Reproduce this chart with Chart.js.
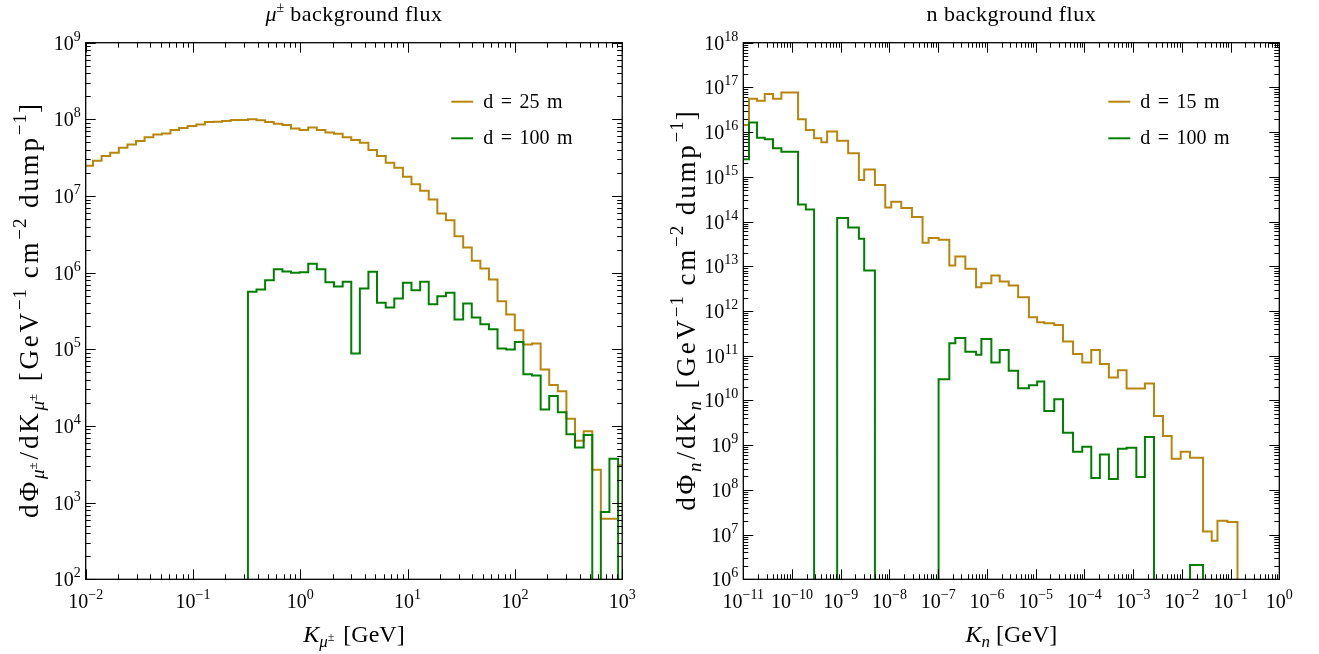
<!DOCTYPE html>
<html>
<head>
<meta charset="utf-8">
<script src="https://cdn.jsdelivr.net/npm/chart.js@4.4.0/dist/chart.umd.min.js"></script>
<style>
  html, body { margin: 0; padding: 0; background: #fff; overflow: hidden; }
  #wrap { position: relative; width: 1319px; height: 654px; }
  canvas { position: absolute; top: 0; }
</style>
</head>
<body>
<div id="wrap">
  <canvas id="muChart" width="660" height="654" style="left:0"></canvas>
  <canvas id="nChart" width="659" height="654" style="left:660px"></canvas>
</div>
<script>
// Bin edges are log10(K / GeV); bin contents are log10(flux), null = empty bin
const muEdgesLog = [-2.012, -1.932, -1.852, -1.772, -1.691, -1.611, -1.531, -1.451, -1.370, -1.290,
  -1.210, -1.130, -1.050, -0.969, -0.889, -0.809, -0.729, -0.648, -0.568, -0.488,
  -0.408, -0.328, -0.247, -0.167, -0.087, -0.007, 0.074, 0.154, 0.234, 0.314,
  0.395, 0.475, 0.555, 0.635, 0.715, 0.796, 0.876, 0.956, 1.036, 1.117,
  1.197, 1.277, 1.357, 1.437, 1.518, 1.598, 1.678, 1.758, 1.838, 1.919,
  1.999, 2.079, 2.159, 2.240, 2.320, 2.400, 2.480, 2.560, 2.641, 2.721,
  2.801, 2.881, 2.962, 3.042];
const mu25Log = [7.395, 7.460, 7.521, 7.564, 7.630, 7.673, 7.717, 7.765, 7.804, 7.817,
  7.860, 7.886, 7.913, 7.934, 7.965, 7.969, 7.978, 7.991, 7.991, 8.000,
  7.987, 7.965, 7.943, 7.926, 7.882, 7.860, 7.895, 7.860, 7.830, 7.812,
  7.765, 7.730, 7.696, 7.599, 7.521, 7.434, 7.369, 7.251, 7.155, 7.068,
  6.955, 6.772, 6.685, 6.476, 6.329, 6.154, 6.054, 5.911, 5.628, 5.454,
  5.249, 5.062, 5.075, 4.736, 4.535, 4.453, 4.096, 3.809, 3.931, 3.430,
  2.791, 2.791, 3.487];
const mu100Log = [null, null, null, null, null, null, null, null, null, null,
  null, null, null, null, null, null, null, null, null, 5.750,
  5.780, 5.902, 6.046, 6.015, 5.998, 6.007, 6.115, 6.046, 5.876, 5.819,
  5.880, 4.945, 5.793, 6.011, 5.606, 5.545, 5.663, 5.867, 5.772, 5.880,
  5.589, 5.693, 5.737, 5.389, 5.598, 5.415, 5.328, 5.262, 5.010, 4.997,
  5.097, 4.675, 4.658, 4.214, 4.392, 4.179, 3.892, 3.718, 3.883, null,
  2.878, 3.574, null];

const nEdgesLog = [-11.047, -10.883, -10.718, -10.560, -10.390, -10.219, -10.046, -9.876, -9.717, -9.547,
  -9.397, -9.280, -9.074, -8.848, -8.628, -8.519, -8.299, -8.087, -7.964, -7.758,
  -7.539, -7.321, -7.197, -6.992, -6.772, -6.649, -6.443, -6.223, -6.114, -5.909,
  -5.738, -5.553, -5.360, -5.138, -4.969, -4.823, -4.618, -4.439, -4.233, -4.044,
  -3.859, -3.682, -3.497, -3.312, -3.134, -2.934, -2.758, -2.572, -2.387, -2.209,
  -2.024, -1.832, -1.565, -1.387, -1.269, -1.064, -0.858];
const n15Log = [16.162, 16.745, 16.700, 16.850, 16.745, 16.887, 16.887, 16.289, 16.049, 15.862,
  15.773, 16.012, 15.810, 15.526, 14.927, 15.166, 14.815, 14.314, 14.441, 14.306,
  14.104, 13.528, 13.633, 13.595, 13.019, 13.221, 12.944, 12.533, 12.622, 12.795,
  12.660, 12.570, 12.308, 11.859, 11.747, 11.725, 11.687, 11.320, 11.036, 10.849,
  11.126, 10.812, 10.512, 10.677, 10.266, 10.266, 10.378, 9.652, 9.203, 8.694,
  8.851, 8.717, 7.071, 6.861, 7.310, 7.280];
const n100Log = [15.391, 16.214, 15.877, 15.840, 15.638, 15.563, 15.563, 14.381, 14.269, null,
  null, null, 14.082, 13.865, 13.618, 12.907, null, null, null, null,
  null, null, null, 10.475, 11.276, 11.395, 11.089, 11.021, 11.373, 10.849,
  11.126, 10.662, 10.273, 10.340, 10.423, 9.764, 10.027, 9.278, 8.851, 8.964,
  8.268, 8.791, 8.245, 8.919, 8.941, 8.290, 9.181, null, null, null,
  null, 6.321, null, null, null, null];

const ORANGE = '#b8860b';
const GREEN = '#008000';
const SERIF = '"Liberation Serif", "DejaVu Serif", serif';
const FLOOR = 1e-30; // stands in for an empty bin on the log axis

// step outline: one point per left edge, closed down to the floor at both ends
function histPoints(edgesLog, valsLog) {
  const pts = [{ x: 10 ** edgesLog[0], y: FLOOR }];
  valsLog.forEach((v, i) => pts.push({ x: 10 ** edgesLog[i], y: v === null ? FLOOR : 10 ** v }));
  pts.push({ x: 10 ** edgesLog[edgesLog.length - 1], y: FLOOR });
  return pts;
}

function setFont(ctx, size, italic) {
  ctx.font = (italic ? 'italic ' : '') + size + 'px ' + SERIF;
}
function runWidth(ctx, r) {
  setFont(ctx, r.s, r.it);
  if (!r.ls) return ctx.measureText(r.t).width + (r.gap || 0);
  let w = 0;
  for (const ch of r.t) w += ctx.measureText(ch).width + r.ls;
  return w + (r.gap || 0);
}
function drawRuns(ctx, runs, x, y, align) {
  const w = runs.reduce((acc, r) => acc + runWidth(ctx, r), 0);
  let cx = align === 'center' ? x - w / 2 : align === 'right' ? x - w : x;
  ctx.textAlign = 'left';
  ctx.textBaseline = 'alphabetic';
  runs.forEach(r => {
    setFont(ctx, r.s, r.it);
    if (!r.ls) {
      ctx.fillText(r.t, cx, y + (r.dy || 0));
      cx += ctx.measureText(r.t).width + (r.gap || 0);
    } else {
      for (const ch of r.t) {
        ctx.fillText(ch, cx, y + (r.dy || 0));
        cx += ctx.measureText(ch).width + r.ls;
      }
      cx += r.gap || 0;
    }
  });
}
function powRuns(e) {
  return [{ t: '10', s: 20 }, { t: e < 0 ? '\u2212' + (-e) : String(e), s: 14, dy: -9 }];
}
function logTicks(min, max) {
  const e0 = Math.round(Math.log10(min)), e1 = Math.round(Math.log10(max));
  const out = [];
  for (let e = e0; e <= e1; e++) {
    out.push({ v: 10 ** e, e: e, major: true });
    if (e < e1) for (let m = 2; m <= 9; m++) out.push({ v: m * 10 ** e, major: false });
  }
  return out;
}

// matplotlib-like frame: inward ticks on all sides, 10^n labels, titles, legend
function decoPlugin(deco) {
  return {
    id: 'deco',
    afterDraw(chart) {
      const { ctx, chartArea: a, scales: { x, y } } = chart;
      ctx.save();
      ctx.strokeStyle = '#000';
      ctx.fillStyle = '#000';
      ctx.lineWidth = 1;
      const xt = logTicks(x.min, x.max), yt = logTicks(y.min, y.max);
      ctx.beginPath();
      xt.forEach(t => {
        const px = Math.round(x.getPixelForValue(t.v)) + 0.5, L = t.major ? 10 : 5;
        ctx.moveTo(px, a.bottom); ctx.lineTo(px, a.bottom - L);
        ctx.moveTo(px, a.top); ctx.lineTo(px, a.top + L);
      });
      yt.forEach(t => {
        const py = Math.round(y.getPixelForValue(t.v)) + 0.5, L = t.major ? 10 : 5;
        ctx.moveTo(a.left, py); ctx.lineTo(a.left + L, py);
        ctx.moveTo(a.right, py); ctx.lineTo(a.right - L, py);
      });
      ctx.stroke();
      ctx.lineWidth = 1.3;
      ctx.strokeRect(a.left, a.top, a.right - a.left, a.bottom - a.top);

      xt.filter(t => t.major).forEach(t => {
        drawRuns(ctx, powRuns(t.e), x.getPixelForValue(t.v), a.bottom + 29, 'center');
      });
      yt.filter(t => t.major).forEach(t => {
        drawRuns(ctx, powRuns(t.e), a.left - 5, y.getPixelForValue(t.v) + 7, 'right');
      });

      const midX = (a.left + a.right) / 2, midY = (a.top + a.bottom) / 2;
      drawRuns(ctx, deco.title, midX, 21, 'center');
      drawRuns(ctx, deco.xlabel, midX, 642, 'center');
      ctx.save();
      ctx.translate(a.left - 48, midY);
      ctx.rotate(-Math.PI / 2);
      drawRuns(ctx, deco.ylabel, 0, 0, 'center');
      ctx.restore();

      deco.legend.forEach((item, i) => {
        const ly = a.top + 59 + i * 36.6;
        ctx.strokeStyle = item.color;
        ctx.lineWidth = 2;
        ctx.beginPath();
        ctx.moveTo(a.right - 171, ly); ctx.lineTo(a.right - 149, ly);
        ctx.stroke();
        drawRuns(ctx, item.label, a.right - 139, ly + 6, 'left');
      });
      ctx.restore();
    }
  };
}

function makeChart(id, pad, xr, yr, series, deco) {
  return new Chart(document.getElementById(id), {
    type: 'line',
    data: {
      datasets: series.map(s => ({
        data: s.points,
        borderColor: s.color,
        borderWidth: 2,
        pointRadius: 0,
        stepped: true,
        fill: false,
        clip: 0
      }))
    },
    options: {
      responsive: false,
      animation: false,
      devicePixelRatio: 1,
      layout: { padding: pad },
      scales: {
        x: { type: 'logarithmic', min: xr[0], max: xr[1], display: false },
        y: { type: 'logarithmic', min: yr[0], max: yr[1], display: false }
      },
      plugins: { legend: { display: false }, tooltip: { enabled: false }, title: { display: false } }
    },
    plugins: [decoPlugin(deco)]
  });
}

// rich-text pieces shared by both panels
const LS = 2.8;
const yLabelTail = [
  { t: ' [GeV', s: 27, ls: LS }, { t: '\u22121', s: 19, dy: -12, ls: 1 },
  { t: ' cm', s: 27, ls: LS }, { t: '\u22122', s: 19, dy: -12, ls: 1 },
  { t: ' dump', s: 27, ls: LS }, { t: '\u22121', s: 19, dy: -12, ls: 1 }, { t: ']', s: 27 }
];
const muSubY = [{ t: '\u03bc', s: 19, it: true, dy: 6 }, { t: '\u00b1', s: 13, dy: -1, gap: 3 }];
const muSubX = [{ t: '\u03bc', s: 17, it: true, dy: 5 }, { t: '\u00b1', s: 12, dy: -1, gap: 3 }];
const legendLabel = (a, b) => [
  { t: 'd', s: 20, gap: 7.5 }, { t: '=', s: 20, gap: 7.5 }, { t: a, s: 20, gap: 7.5 }, { t: b, s: 20 }
];

makeChart('muChart', { left: 85.7, right: 37.8, top: 42.7, bottom: 74.7 }, [1e-2, 1e3], [1e2, 1e9], [
  { points: histPoints(muEdgesLog, mu100Log), color: GREEN },
  { points: histPoints(muEdgesLog, mu25Log), color: ORANGE }
], {
  title: [{ t: '\u03bc', s: 22, it: true }, { t: '\u00b1', s: 14, dy: -9 }, { t: ' background flux', s: 22, ls: 0.5 }],
  xlabel: [{ t: 'K', s: 24, it: true }].concat(muSubX, [{ t: ' [GeV]', s: 24 }]),
  ylabel: [{ t: 'd\u03a6', s: 27, ls: LS }].concat(muSubY, [{ t: '/dK', s: 27, ls: LS }], muSubY, yLabelTail),
  legend: [{ label: legendLabel('25', 'm'), color: ORANGE }, { label: legendLabel('100', 'm'), color: GREEN }]
});

makeChart('nChart', { left: 83.3, right: 39.7, top: 42.7, bottom: 74.7 }, [1e-11, 1e0], [1e6, 1e18], [
  { points: histPoints(nEdgesLog, n100Log), color: GREEN },
  { points: histPoints(nEdgesLog, n15Log), color: ORANGE }
], {
  title: [{ t: 'n background flux', s: 22, ls: 0.5 }],
  xlabel: [{ t: 'K', s: 24, it: true }, { t: 'n', s: 17, it: true, dy: 5 }, { t: ' [GeV]', s: 24 }],
  ylabel: [{ t: 'd\u03a6', s: 27, ls: LS }, { t: 'n', s: 19, it: true, dy: 6, gap: 3 }, { t: '/dK', s: 27, ls: LS },
    { t: 'n', s: 19, it: true, dy: 6, gap: 3 }].concat(yLabelTail),
  legend: [{ label: legendLabel('15', 'm'), color: ORANGE }, { label: legendLabel('100', 'm'), color: GREEN }]
});
</script>
</body>
</html>
